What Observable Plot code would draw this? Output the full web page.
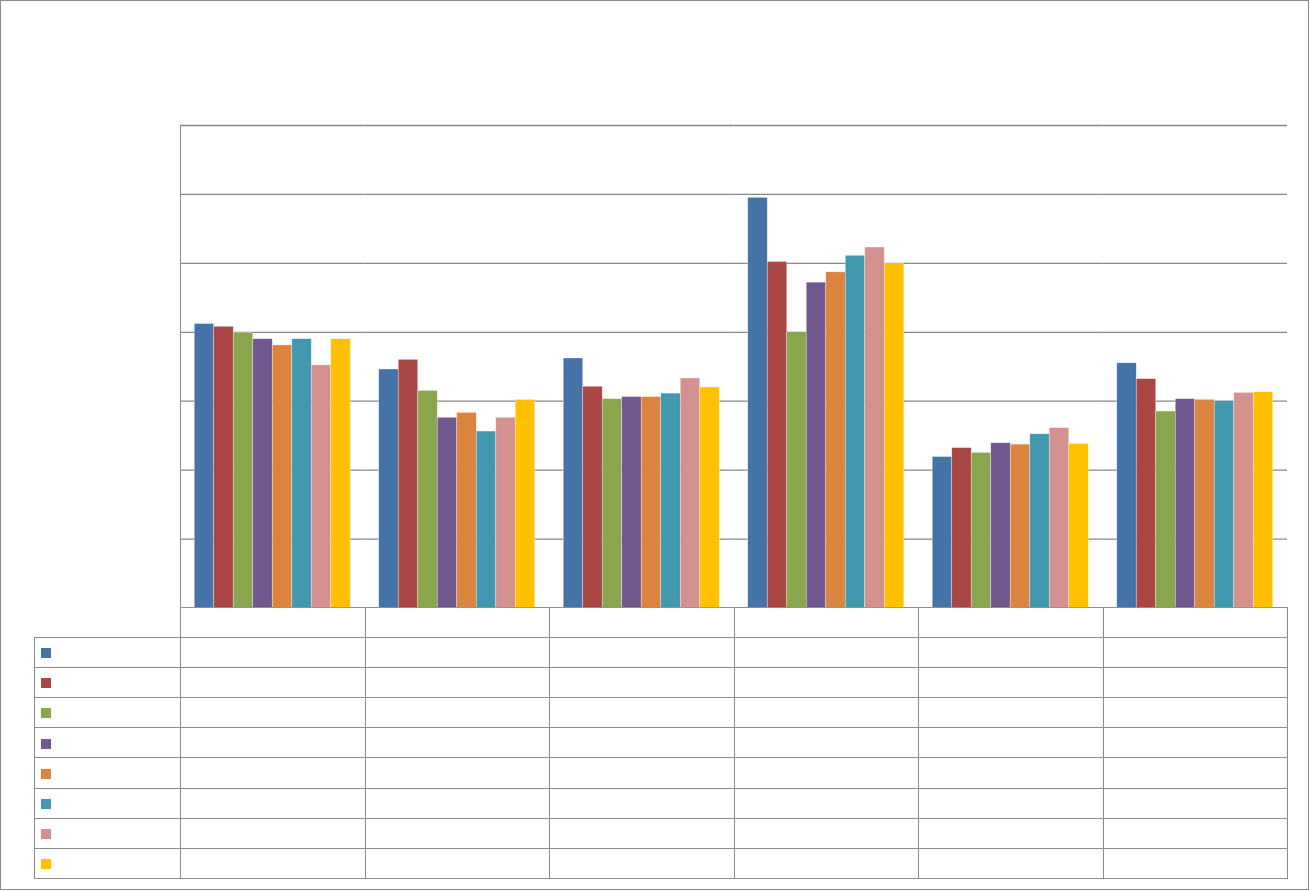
<!DOCTYPE html>
<html>
<head>
<meta charset="utf-8">
<script src="https://cdn.jsdelivr.net/npm/d3@7"></script>
<script src="https://cdn.jsdelivr.net/npm/@observablehq/plot@0.6"></script>
<style>
  html, body { margin: 0; padding: 0; background: #fff; }
  #wrap { position: relative; width: 1310px; height: 891px; font-family: "Liberation Sans", Arial, sans-serif; }
  #border { position: absolute; left: 0; top: 0; width: 1309px; height: 890px; box-sizing: border-box; border: 1.5px solid #8a8a8a; pointer-events: none; }
  #chart { position: absolute; left: 0; top: 0; }
  #axisline { position: absolute; left: 179.5px; top: 125px; width: 0; height: 483px; border-left: 1.5px solid #8a8a8a; }
  #table { position: absolute; left: 34px; top: 607px; border-collapse: collapse; table-layout: fixed; }
  #table td { border: 1.5px solid #8c8c8c; height: 30.2px; padding: 0 0 0 6px; box-sizing: border-box; }
  #table tr.head td { border-top: none; }
  #table tr.head td.corner { border: none; border-right: 1.5px solid #8c8c8c; }
  .key { display: inline-block; width: 10px; height: 10px; vertical-align: middle; }
</style>
</head>
<body>
<div id="wrap">
  <div id="chart"></div>
  <div id="axisline"></div>
  <table id="table"></table>
  <div id="border"></div>
</div>
<script>
// Categories (no labels are visible in the reference)
const categories = ["Category 1", "Category 2", "Category 3", "Category 4", "Category 5", "Category 6"];
// Series (no names visible in the reference)
const series = ["Series 1", "Series 2", "Series 3", "Series 4", "Series 5", "Series 6", "Series 7", "Series 8"];
const colors = ["#4572A7", "#AA4643", "#89A54E", "#71588F", "#DB843D", "#4198AF", "#D39290", "#FFC000"];
// Values per series, one entry per category
const s1 = [4.12, 3.46, 3.62, 5.95, 2.19, 3.55];
const s2 = [4.08, 3.60, 3.21, 5.02, 2.32, 3.32];
const s3 = [3.99, 3.15, 3.03, 4.00, 2.25, 2.85];
const s4 = [3.90, 2.76, 3.06, 4.72, 2.39, 3.03];
const s5 = [3.81, 2.83, 3.06, 4.87, 2.37, 3.02];
const s6 = [3.90, 2.56, 3.11, 5.11, 2.52, 3.00];
const s7 = [3.52, 2.76, 3.33, 5.23, 2.61, 3.12];
const s8 = [3.90, 3.02, 3.20, 4.99, 2.38, 3.13];
const gridValues = [0, 1, 2, 3, 4, 5, 6, 7];

const seriesValues = [s1, s2, s3, s4, s5, s6, s7, s8];
const data = [];
categories.forEach((c, ci) => {
  series.forEach((s, si) => {
    data.push({category: c, series: s, value: seriesValues[si][ci]});
  });
});

const plot = Plot.plot({
  width: 1310,
  height: 608,
  marginLeft: 180,
  marginRight: 23,
  marginTop: 125,
  marginBottom: 0.5,
  fx: {domain: categories, padding: 0, round: false, axis: null},
  x: {domain: series, paddingInner: 0, paddingOuter: 0.73, round: false, axis: null},
  y: {domain: [0, 7], axis: null},
  color: {domain: series, range: colors},
  style: {background: "transparent"},
  marks: [
    Plot.ruleY(gridValues, {stroke: "#878787", strokeWidth: 1.3}),
    Plot.barY(data, {
      fx: "category",
      x: "series",
      y: "value",
      fill: "series",
      stroke: "#ffffff",
      strokeOpacity: 0.55,
      strokeWidth: 0.6
    }),
    Plot.ruleY([0], {stroke: "#878787", strokeWidth: 1.3})
  ]
});
document.getElementById("chart").appendChild(plot);

// Data table with legend keys (below the chart)
const table = document.getElementById("table");
const colgroup = document.createElement("colgroup");
const c0 = document.createElement("col"); c0.style.width = "146px"; colgroup.appendChild(c0);
categories.forEach(() => { const c = document.createElement("col"); c.style.width = "184.5px"; colgroup.appendChild(c); });
table.appendChild(colgroup);
table.style.width = (146 + 184.5 * categories.length) + "px";
const head = document.createElement("tr");
head.className = "head";
const corner = document.createElement("td"); corner.className = "corner"; head.appendChild(corner);
categories.forEach(() => head.appendChild(document.createElement("td")));
table.appendChild(head);
series.forEach((s, si) => {
  const tr = document.createElement("tr");
  const td = document.createElement("td");
  const key = document.createElement("span");
  key.className = "key";
  key.style.background = colors[si];
  td.appendChild(key);
  tr.appendChild(td);
  categories.forEach(() => tr.appendChild(document.createElement("td")));
  table.appendChild(tr);
});
</script>
</body>
</html>
